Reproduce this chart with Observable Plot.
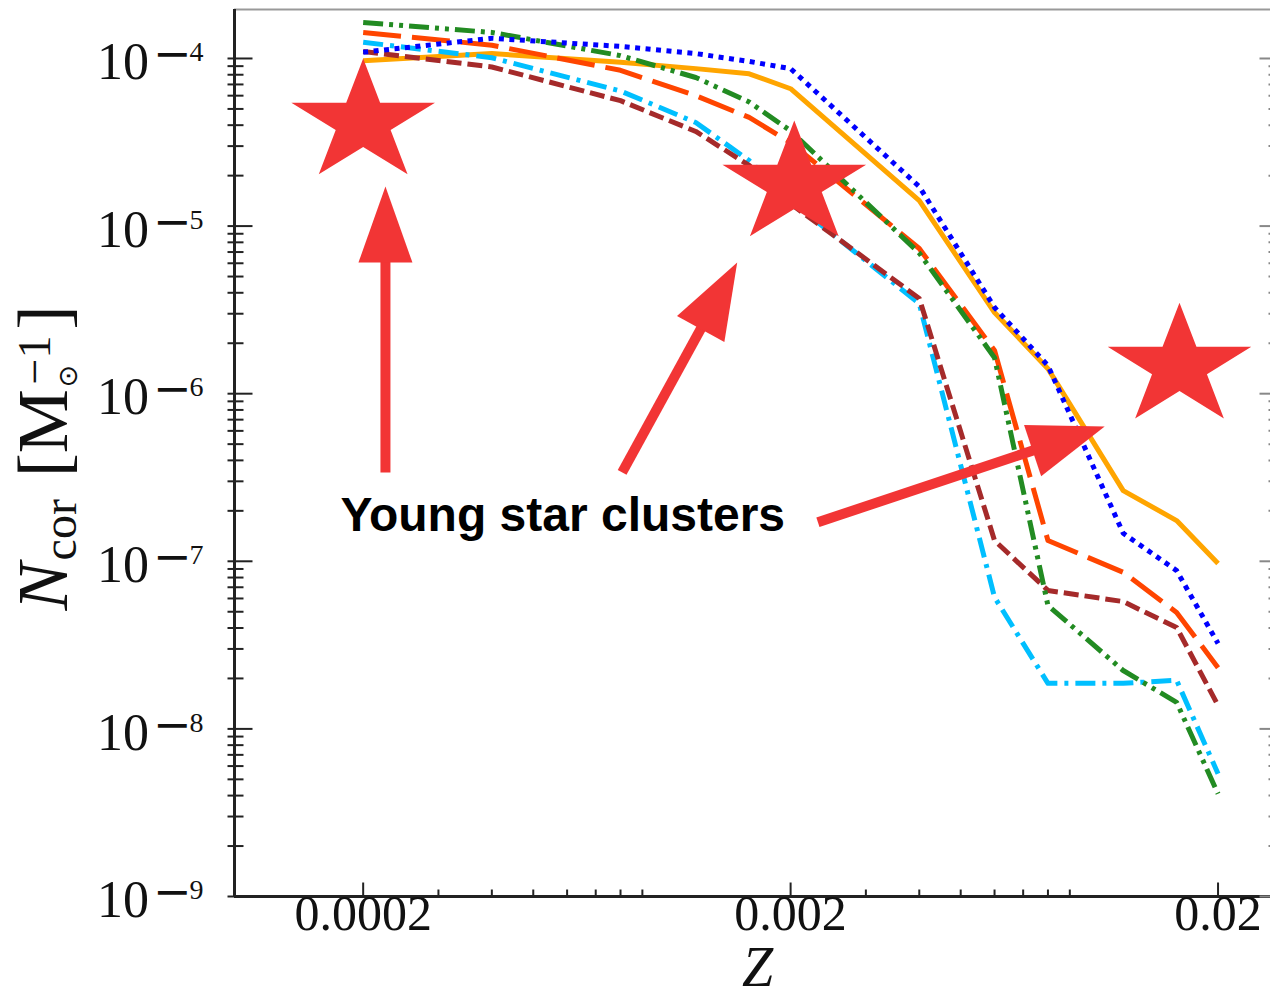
<!DOCTYPE html>
<html><head><meta charset="utf-8">
<script src="https://cdn.jsdelivr.net/npm/d3@7"></script>
<script src="https://cdn.jsdelivr.net/npm/@observablehq/plot@0.6"></script>
<style>html,body{margin:0;padding:0;background:#fff;overflow:hidden;width:1270px;height:1006px}
svg{max-width:none !important;}</style>
</head><body><div id="chart"></div>
<script>
// ---- data ----
const Z = [0.0002, 0.0004, 0.0008, 0.0012, 0.0016, 0.002, 0.004, 0.006, 0.008, 0.012, 0.016, 0.02];
const orangeSolid     = [9.7e-5, 1.07e-4, 9.5e-5, 8.7e-5, 8.1e-5, 6.6e-5, 1.42e-5, 3.05e-6, 1.41e-6, 2.64e-7, 1.75e-7, 9.7e-8];
const blueDotted      = [1.09e-4, 1.32e-4, 1.18e-4, 1.07e-4, 9.6e-5, 8.7e-5, 1.72e-5, 3.27e-6, 1.47e-6, 1.47e-7, 8.8e-8, 3.23e-8];
const orangeRedDashed = [1.43e-4, 1.2e-4, 8.5e-5, 6.0e-5, 4.45e-5, 3.15e-5, 7.35e-6, 1.81e-6, 1.33e-7, 8.6e-8, 4.95e-8, 2.32e-8];
const greenDashDotDot = [1.64e-4, 1.43e-4, 1.04e-4, 7.7e-5, 5.5e-5, 3.7e-5, 6.9e-6, 1.64e-6, 5.45e-8, 2.23e-8, 1.44e-8, 4.1e-9];
const cyanDashDot     = [1.25e-4, 1.01e-4, 6.4e-5, 4.15e-5, 2.46e-5, 1.42e-5, 3.45e-6, 6.1e-8, 1.87e-8, 1.87e-8, 1.95e-8, 5.4e-9];
const brownDashed     = [1.10e-4, 8.9e-5, 5.6e-5, 3.67e-5, 2.3e-5, 1.36e-5, 3.7e-6, 1.33e-7, 6.7e-8, 5.75e-8, 4.03e-8, 1.38e-8];

const xMajor = [0.0002, 0.002, 0.02];
const xMajorLabels = ["0.0002", "0.002", "0.02"];
const xMinor = [0.0003, 0.0004, 0.0005, 0.0006, 0.0007, 0.0008, 0.0009, 0.003, 0.004, 0.005, 0.006, 0.007, 0.008, 0.009];
const yMajor = [1e-9, 1e-8, 1e-7, 1e-6, 1e-5, 1e-4];
const yExponents = ["9", "8", "7", "6", "5", "4"];
const yMinorMultipliers = [2, 3, 4, 5, 6, 7, 8, 9];

const starZ = [0.0002, 0.00204, 0.01625];
const starN = [4.15e-5, 1.77e-5, 1.45e-6];
const arrowStartZ = [0.0002255, 0.000807, 0.002317];
const arrowStartN = [3.39e-7, 3.39e-7, 1.71e-7];
const arrowTipZ   = [0.0002255, 0.0015, 0.01086];
const arrowTipN   = [1.72e-5, 6.07e-6, 6.37e-7];
const annotationText = "Young star clusters";
const annotationZ = 0.000177;
const annotationN = 1.88e-7;

// ---- layout ----
const W = 1290, H = 1006, mL = 234, mR = 10, mT = 9, mB = 110;
const xDomain = [1e-4, 0.028];
const yDomain = [1e-9, 1.96e-4];
const red = "#f23535";

const series = [
  {name: "orange", values: orangeSolid, color: "#ffa500", dash: null},
  {name: "orangered", values: orangeRedDashed, color: "#ff4500", dash: "38 11"},
  {name: "deepskyblue", values: cyanDashDot, color: "#00bfff", dash: "20 7 4 7"},
  {name: "brown", values: brownDashed, color: "#a52a2a", dash: "15 6"},
  {name: "green", values: greenDashDotDot, color: "#228b22", dash: "20 6 4 6 4 6"},
  {name: "blue", values: blueDotted, color: "#0000ff", dash: "5 5.5"}
];

const yMinor = [];
for (const e of [-9, -8, -7, -6, -5, -4]) for (const m of yMinorMultipliers) {
  const v = m * Math.pow(10, e);
  if (v > yDomain[0] && v < yDomain[1]) yMinor.push(v);
}

const xs = Plot.scale({x: {type: "log", domain: xDomain, range: [mL, W - mR]}});
const ys = Plot.scale({y: {type: "log", domain: yDomain, range: [H - mB, mT]}});

const arrows = arrowStartZ.map((z, i) => {
  const X1 = xs.apply(z), Y1 = ys.apply(arrowStartN[i]);
  const X2 = xs.apply(arrowTipZ[i]), Y2 = ys.apply(arrowTipN[i]);
  return {
    x1: z, y1: arrowStartN[i], x2: arrowTipZ[i], y2: arrowTipN[i],
    angle: Math.atan2(X2 - X1, -(Y2 - Y1)) * 180 / Math.PI,
    len: Math.hypot(X2 - X1, Y2 - Y1)
  };
});
const stars = starZ.map((z, i) => ({x: z, y: starN[i]}));

const tickShape = {draw(ctx, l) { ctx.moveTo(0, 0); ctx.lineTo(0, -l); }};
const starSymbol = {draw(ctx, size) {
  const R = Math.sqrt(size / Math.PI), r = R * 0.382, sx = 1.18;
  for (let k = 0; k < 10; k++) {
    const a = -Math.PI / 2 + k * Math.PI / 5, rr = k % 2 ? r : R;
    const px = sx * rr * Math.cos(a), py = rr * Math.sin(a);
    k ? ctx.lineTo(px, py) : ctx.moveTo(px, py);
  }
  ctx.closePath();
}};

const marks = [];
for (const s of series) {
  marks.push(Plot.line(Z.map((z, i) => ({z, v: s.values[i], name: s.name})), {
    x: "z", y: "v", stroke: s.color, strokeWidth: 5,
    strokeDasharray: s.dash, strokeLinecap: "butt", strokeLinejoin: "round"
  }));
}
marks.push(Plot.ruleY([yDomain[1]], {stroke: "#999", strokeWidth: 2}));
marks.push(Plot.ruleX([xDomain[1]], {stroke: "#999", strokeWidth: 2}));
marks.push(Plot.ruleX([xDomain[0]], {stroke: "#222", strokeWidth: 3}));
marks.push(Plot.ruleY([yDomain[0]], {stroke: "#222", strokeWidth: 3}));
const tk = {shape: tickShape, anchor: "start", strokeLinecap: "butt", strokeWidth: 2};
marks.push(Plot.vector(xMajor, {...tk, x: d => d, frameAnchor: "bottom", rotate: 0, length: 14, stroke: "#222"}));
marks.push(Plot.vector(xMinor, {...tk, x: d => d, frameAnchor: "bottom", rotate: 0, length: 7, stroke: "#222"}));
marks.push(Plot.vector(yMajor, {...tk, y: d => d, frameAnchor: "left", rotate: 90, length: 25, dx: -7, stroke: "#222"}));
marks.push(Plot.vector(yMinor, {...tk, y: d => d, frameAnchor: "left", rotate: 90, length: 16, dx: -7, stroke: "#222"}));
marks.push(Plot.vector(yMajor, {...tk, y: d => d, frameAnchor: "right", rotate: -90, length: 21, stroke: "#888"}));
marks.push(Plot.vector(yMinor, {...tk, y: d => d, frameAnchor: "right", rotate: -90, length: 12, stroke: "#888"}));
marks.push(Plot.text(xMajor, {x: d => d, frameAnchor: "bottom", text: (d, i) => xMajorLabels[i],
  dy: 33, fontSize: 50, fill: "#111"}));
marks.push(Plot.text(yMajor, {y: d => d, frameAnchor: "left", text: (d, i) => "10\u2212" + yExponents[i],
  textAnchor: "end", dx: -31, fontSize: 52, fill: "#111"}));
marks.push(Plot.text(["Z"], {frameAnchor: "bottom", text: d => d, dy: 89, fontSize: 56, fontStyle: "italic", fill: "#111"}));
marks.push(Plot.dot(stars, {x: "x", y: "y", symbol: starSymbol, r: 64, fill: red, stroke: "none"}));
for (const a of arrows) {
  marks.push(Plot.vector([a], {x: "x1", y: "y1", rotate: a.angle, length: a.len - 40, anchor: "start",
    shape: tickShape, stroke: red, strokeWidth: 10, strokeLinecap: "butt"}));
}
marks.push(Plot.vector(arrows, {x: "x2", y: "y2", rotate: "angle", length: 76, r: 27, anchor: "end",
  shape: "spike", fill: red, stroke: "none"}));
marks.push(Plot.text([annotationText], {x: annotationZ, y: annotationN, text: d => d, textAnchor: "start",
  fontFamily: "Liberation Sans", fontWeight: "bold", fontSize: 48, fill: "#000"}));

const svg = Plot.plot({
  width: W, height: H, marginLeft: mL, marginRight: mR, marginTop: mT, marginBottom: mB,
  style: {fontFamily: "Liberation Serif", background: "#fff", color: "#000", overflow: "visible", maxWidth: "none"},
  x: {type: "log", domain: xDomain, axis: null},
  y: {type: "log", domain: yDomain, axis: null},
  marks
});
document.getElementById("chart").appendChild(svg);

// superscript exponents on y tick labels
d3.select(svg).selectAll("text").each(function () {
  const t = this.textContent;
  if (!/^10\u2212\d$/.test(t)) return;
  const base = t.slice(0, 2), exp = t.slice(3);
  const sel = d3.select(this);
  sel.text(null);
  sel.append("tspan").attr("dy", 4).text(base);
  sel.append("tspan").attr("dx", 4).attr("dy", -10).attr("font-family", "DejaVu Sans").attr("font-size", 46).text("\u2212");
  sel.append("tspan").attr("dx", -2).attr("dy", -8).attr("font-size", 28).text(exp);
});

// y axis title
const yl = d3.select(svg).append("text")
  .attr("transform", "translate(67,458) rotate(-90)")
  .attr("text-anchor", "middle")
  .attr("font-family", "Liberation Serif")
  .attr("font-size", 72)
  .attr("fill", "#111");
yl.append("tspan").attr("font-style", "italic").text("N");
yl.append("tspan").attr("font-size", 48).attr("dx", 2).attr("dy", 9).text("cor");
yl.append("tspan").attr("dx", 4).attr("dy", -9).text(" [M");
yl.append("tspan").attr("font-family", "DejaVu Sans").attr("font-size", 27).attr("dx", 2).attr("dy", 10).text("\u2299");
yl.append("tspan").attr("font-size", 46).attr("dx", -20).attr("dy", -27).text("\u22121");
yl.append("tspan").attr("dx", 6).attr("dy", 17).text("]");
</script>
</body></html>
